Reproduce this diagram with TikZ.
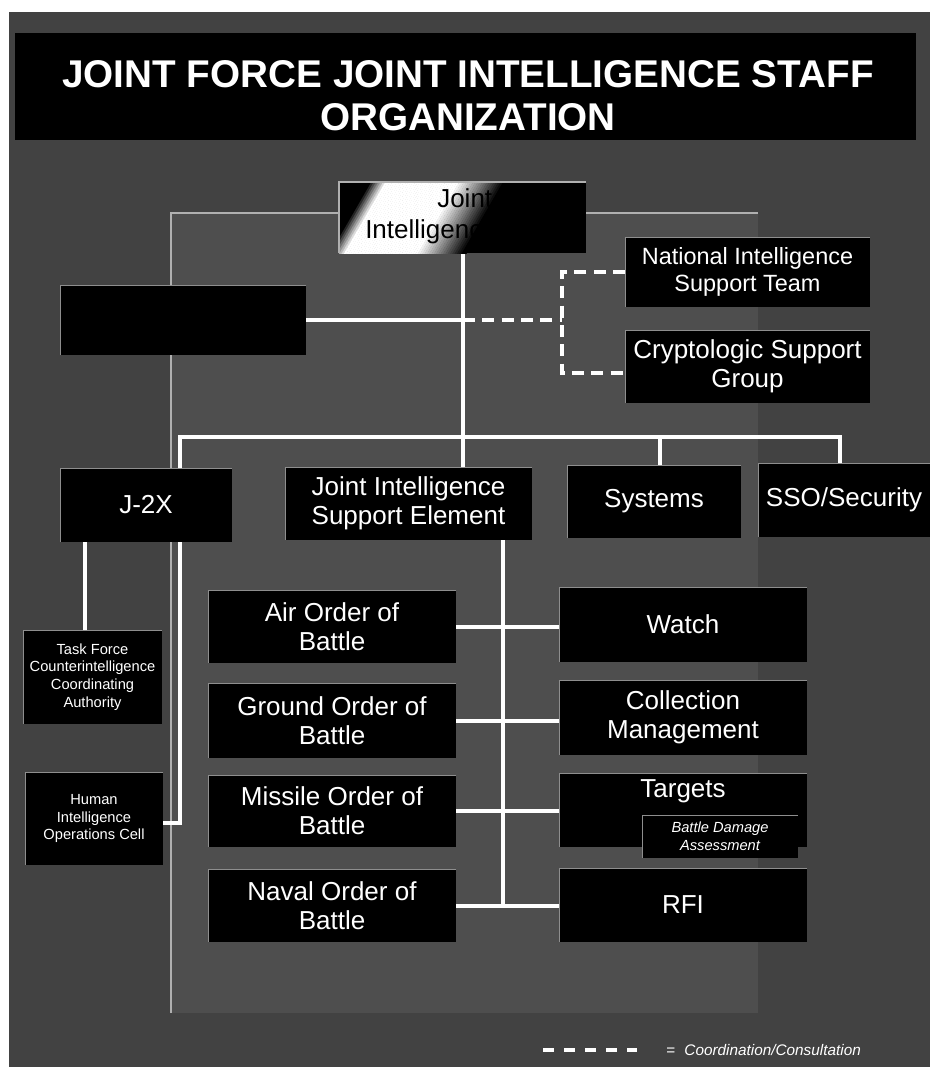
\documentclass[tikz,border=0pt]{standalone}
\usepackage{fontspec}
\setmainfont{Liberation Sans}
\pgfdeclarelayer{back}
\pgfdeclarelayer{lines}
\pgfsetlayers{back,lines,main}
\definecolor{bgout}{HTML}{424242}
\definecolor{bgpanel}{HTML}{4E4E4E}
\definecolor{edgec}{HTML}{8E8E8E}
\tikzset{
  box/.style={fill=black, inner sep=0pt, outer sep=0pt, text=white, align=center,
    font=\fontsize{19.5}{21.5}\selectfont,
    path picture={\draw[edgec, line width=1pt] (path picture bounding box.south west) -- (path picture bounding box.north west) -- (path picture bounding box.north east);}},
  smallbox/.style={font=\fontsize{11}{13.3}\selectfont},
  nistbox/.style={font=\fontsize{17.6}{20.5}\selectfont},
  link/.style={white, line width=3pt},
  coordline/.style={white, line width=3pt, dash pattern=on 9pt off 5.5pt},
  thinedge/.style={edgec!70!white, line width=0.8pt},
  boxtext/.style={text=white, inner sep=0pt, font=\fontsize{19.5}{21.5}\selectfont},
}
\newcommand\pbox[7][]{\node[box,#1,anchor=north west,minimum width={(#5-#3)*0.75pt},minimum height={(#6-#4)*0.75pt}] (#2) at (#3,#4) {#7};}
\begin{document}
\begin{tikzpicture}[x=0.75pt,y=-0.75pt]
\useasboundingbox (0,0) rectangle (930,1067);
\begin{pgfonlayer}{back}
  \fill[bgout] (0,0) rectangle (930,1067);
  \fill[white] (0,0) rectangle (930,12);
  \fill[white] (0,0) rectangle (9,1067);
  \fill[bgpanel] (171,213) rectangle (758,1013);
  \draw[thinedge] (171,1013) -- (171,213) -- (758,213);
\end{pgfonlayer}

% title
\node[fill=black, inner sep=0pt, anchor=north west, minimum width={901*0.75pt}, minimum height={107*0.75pt}] (TB) at (15,33) {};
\node[text=white, align=center, font=\fontsize{29}{32}\selectfont\bfseries] (TT) at (468,96) {JOINT FORCE JOINT INTELLIGENCE STAFF\\ORGANIZATION};

% top node with diagonal gradient
\node[inner sep=0pt, outer sep=0pt, anchor=north west, minimum width={247*0.75pt}, minimum height={71*0.75pt}] (JI) at (339,182) {};
\begin{scope}
  \clip (JI.south west) rectangle (JI.north east);
  \fill[black] (JI.south west) rectangle (JI.north east);
  \begin{scope}[shift={(462,217)}, rotate=-30]
    \foreach \s in {-100,-98,...,20}{
      \pgfmathsetmacro\p{(\s < -98) ? 0 : ((\s < -84) ? ((\s+98)/14*100) : ((\s < -22) ? 100 : ((\s < 18) ? ((18-\s)/40*100) : 0)))}
      \fill[white!\p!black] (\s,-200) rectangle (\s+2.3,200);
    }
  \end{scope}
\end{scope}
\draw[thinedge] (JI.south west) -- (JI.north west) -- (JI.north east);
\node[anchor=base west, inner sep=0pt, text=black, font=\fontsize{19.5}{21.5}\selectfont] (JIa) at (437,207) {Joint};
\node[anchor=base west, inner sep=0pt, text=black, font=\fontsize{19.5}{21.5}\selectfont] (JIb) at (365,238) {Intelligence};

% boxes
\pbox{BLK}{60}{285}{306}{355}{}
\pbox[nistbox]{NIST}{625}{237}{870}{307}{National Intelligence\\Support Team}
\pbox{CSG}{625}{330}{870}{403}{Cryptologic Support\\Group}
\pbox{J2X}{60}{468}{232}{542}{J-2X}
\pbox{JISE}{285}{467}{532}{540}{Joint Intelligence\\Support Element}
\pbox{SYS}{567}{465}{741}{538}{Systems}
\pbox{SSO}{758}{463}{930}{537}{SSO/Security}
\pbox[smallbox]{TF}{23}{630}{162}{724}{Task Force\\Counterintelligence\\Coordinating\\Authority}
\pbox[smallbox]{HUM}{25}{772}{163}{865}{Human\\Intelligence\\Operations Cell}
\pbox{AIR}{208}{590}{456}{663}{Air Order of\\Battle}
\pbox{GRD}{208}{683}{456}{758}{Ground Order of\\Battle}
\pbox{MSL}{208}{775}{456}{847}{Missile Order of\\Battle}
\pbox{NAV}{208}{869}{456}{942}{Naval Order of\\Battle}
\pbox{WAT}{559}{587}{807}{662}{Watch}
\pbox{COL}{559}{680}{807}{755}{Collection\\Management}
\pbox{TGT}{559}{773}{807}{847}{}
\node[boxtext] (TGTL) at (683,791) {Targets};
\pbox[font=\fontsize{11}{13.3}\selectfont\itshape]{BDA}{642}{815}{798}{858}{Battle Damage\\Assessment}
\pbox{RFI}{559}{868}{807}{942}{RFI}

% connectors
\coordinate (busL) at (180,437);
\coordinate (busS) at (660,437);
\coordinate (busR) at (840,437);
\coordinate (hy) at (0,823);
\coordinate (jt) at (85,0);
\coordinate (jx) at (503,0);
\coordinate (jct) at (463,320);
\coordinate (dTop) at (562,272);
\coordinate (dBot) at (562,373);
\begin{pgfonlayer}{lines}
  \draw[link] (JI.south) -- (JI.south |- JISE.north);
  \draw[link] (HUM.east |- hy) -| (busL) -- (busR) -- (busR |- SSO.north);
  \draw[link] (busS) -- (busS |- SYS.north);
  \draw[link] (J2X.south -| jt) -- (TF.north -| jt);
  \draw[link] (BLK.east) -- (jct);
  \draw[coordline] (jct) -- (jct -| dTop);
  \draw[coordline] (dTop -| NIST.west) -- (dTop) -- (dBot) -- (dBot -| CSG.west);
  \draw[link] (JISE.south -| jx) -- (jx |- NAV.east);
  \draw[link] (AIR.east) -- (AIR.east -| WAT.west);
  \draw[link] (GRD.east) -- (GRD.east -| COL.west);
  \draw[link] (MSL.east) -- (MSL.east -| TGT.west);
  \draw[link] (NAV.east) -- (NAV.east -| RFI.west);
\end{pgfonlayer}

% legend
\coordinate (lg1) at (543,1050);
\coordinate (lg2) at (637,1050);
\draw[white, line width=3pt, dash pattern=on 8.25pt off 7.5pt] (lg1) -- (lg2);
\node[anchor=west, inner sep=0pt, text=white, font=\fontsize{11.5}{13}\selectfont] (LG) at (666,1050) {=\hspace{0.6em}\textit{Coordination/Consultation}};
\end{tikzpicture}
\end{document}
